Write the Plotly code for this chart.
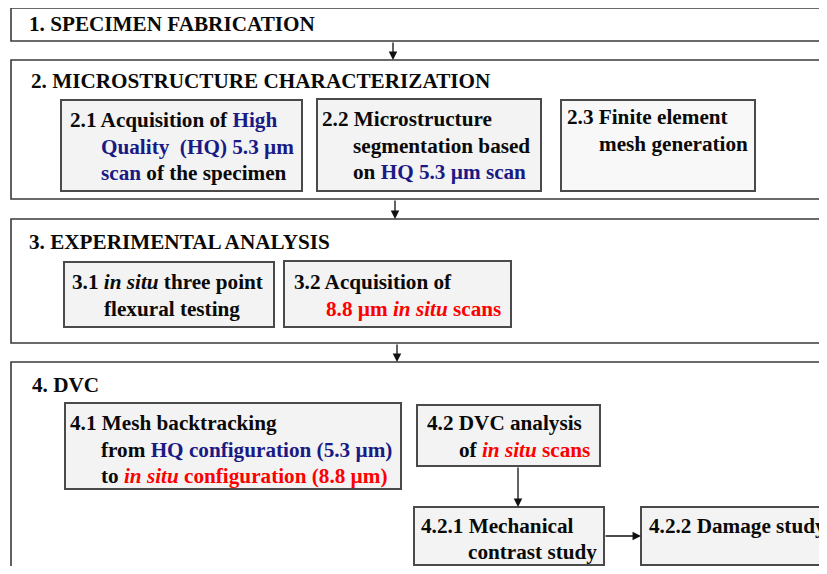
import plotly.graph_objects as go

W, H = 827, 574
PAGE_MARGIN = 8  # browser body margin (top/left and bottom)
BLUE = "#1a1a85"
RED = "#ff0000"

def c(t, col):
    return f"<span style='color:{col}'>{t}</span>"

# ---- content (text) ----
section_titles = ["1. SPECIMEN FABRICATION",
                  "2. MICROSTRUCTURE CHARACTERIZATION",
                  "3. EXPERIMENTAL ANALYSIS",
                  "4. DVC"]

step_texts = {
    "2.1": ["2.1 Acquisition of " + c("High", BLUE),
            c("Quality \u00a0(HQ) 5.3 µm", BLUE),
            c("scan", BLUE) + " of the specimen"],
    "2.2": ["2.2 Microstructure",
            "segmentation based",
            "on " + c("HQ 5.3 µm scan", BLUE)],
    "2.3": ["2.3 Finite element",
            "mesh generation"],
    "3.1": ["3.1 <i>in situ</i> three point",
            "flexural testing"],
    "3.2": ["3.2 Acquisition of",
            c("8.8 µm <i>in situ</i> scans", RED)],
    "4.1": ["4.1 Mesh backtracking",
            "from " + c("HQ configuration (5.3 µm)", BLUE),
            "to " + c("<i>in situ</i> configuration (8.8 µm)", RED)],
    "4.2": ["4.2 DVC analysis",
            "of " + c("<i>in situ</i> scans", RED)],
    "4.2.1": ["4.2.1 Mechanical",
              "contrast study"],
    "4.2.2": ["4.2.2 Damage study"],
}

# ---- layout geometry (pixels) ----
section_boxes = [(11, 8, 840, 41), (11, 60, 840, 199),
                 (11, 219, 840, 343), (11, 362, 840, 590)]
section_title_pos = [(28, 24), (30, 81), (28, 242), (31, 385)]

step_boxes = {
    "2.1": (61, 100, 302, 191), "2.2": (317, 99, 541, 191),
    "2.3": (561, 100, 755, 191),
    "3.1": (64, 262, 274, 327), "3.2": (284, 261, 511, 327),
    "4.1": (65, 403, 401, 489), "4.2": (417, 405, 600, 466),
    "4.2.1": (414, 507, 604, 565), "4.2.2": (641, 507, 840, 565),
}
# first line x, indented x, first line y, line step
step_text_pos = {
    "2.1": (69, 100, 120, 26.7), "2.2": (321, 352, 119, 26.7),
    "2.3": (566, 598, 117, 26.7),
    "3.1": (71, 103, 282, 26.5), "3.2": (293, 325, 282, 26.5),
    "4.1": (69, 100, 423, 26.6), "4.2": (426, 458, 423, 26.6),
    "4.2.1": (420, 467, 526, 25.8), "4.2.2": (648, 648, 526, 26),
}
step_fill = {k: "#f3f3f3" for k in step_boxes}
step_fill["2.3"] = "#f8f8f8"

arrows = [((393, 41), (393, 60)), ((395, 199), (395, 219)),
          ((397, 343), (397, 362)), ((518, 466), (518, 507)),
          ((604, 536), (641, 536))]

FONT = dict(family="Liberation Serif, Times New Roman, serif", size=21.2, color="#0a0a0a")

fig = go.Figure()
shapes = []
annotations = []

for (x0, y0, x1, y1) in section_boxes:
    shapes.append(dict(type="rect", x0=x0, y0=y0, x1=x1, y1=y1,
                       line=dict(color="#3a3a3a", width=1.6), fillcolor="white", layer="below"))
for k, (x0, y0, x1, y1) in step_boxes.items():
    shapes.append(dict(type="rect", x0=x0, y0=y0, x1=x1, y1=y1,
                       line=dict(color="#4a4a4a", width=2), fillcolor=step_fill[k], layer="below"))

for t, (x, y) in zip(section_titles, section_title_pos):
    annotations.append(dict(x=x, y=y, text=f"<b>{t}</b>", showarrow=False,
                            xanchor="left", yanchor="middle", font=FONT, borderpad=0))

for k, lines in step_texts.items():
    xa, xb, y0, dy = step_text_pos[k]
    for i, ln in enumerate(lines):
        annotations.append(dict(x=xa if i == 0 else xb, y=y0 + i * dy, text=f"<b>{ln}</b>",
                                showarrow=False, xanchor="left", yanchor="middle",
                                font=FONT, borderpad=0))

for (sx, sy), (ex, ey) in arrows:
    annotations.append(dict(x=ex, y=ey, ax=sx, ay=sy, xref="x", yref="y", axref="x", ayref="y",
                            text="", showarrow=True, arrowhead=2, arrowsize=1.3,
                            arrowwidth=1.3, arrowcolor="#111111", standoff=0))

# figure sized so the page (with its 8px body margins) never scrolls
fig_w = W - PAGE_MARGIN
fig_h = H - 2 * PAGE_MARGIN
fig.update_layout(
    width=fig_w, height=fig_h, margin=dict(l=0, r=0, t=0, b=0),
    paper_bgcolor="white", plot_bgcolor="white",
    xaxis=dict(range=[PAGE_MARGIN, PAGE_MARGIN + fig_w], visible=False, fixedrange=True),
    yaxis=dict(range=[PAGE_MARGIN + fig_h, PAGE_MARGIN], visible=False, fixedrange=True),
    shapes=shapes, annotations=annotations, showlegend=False,
)
fig.write_html("out.html")
